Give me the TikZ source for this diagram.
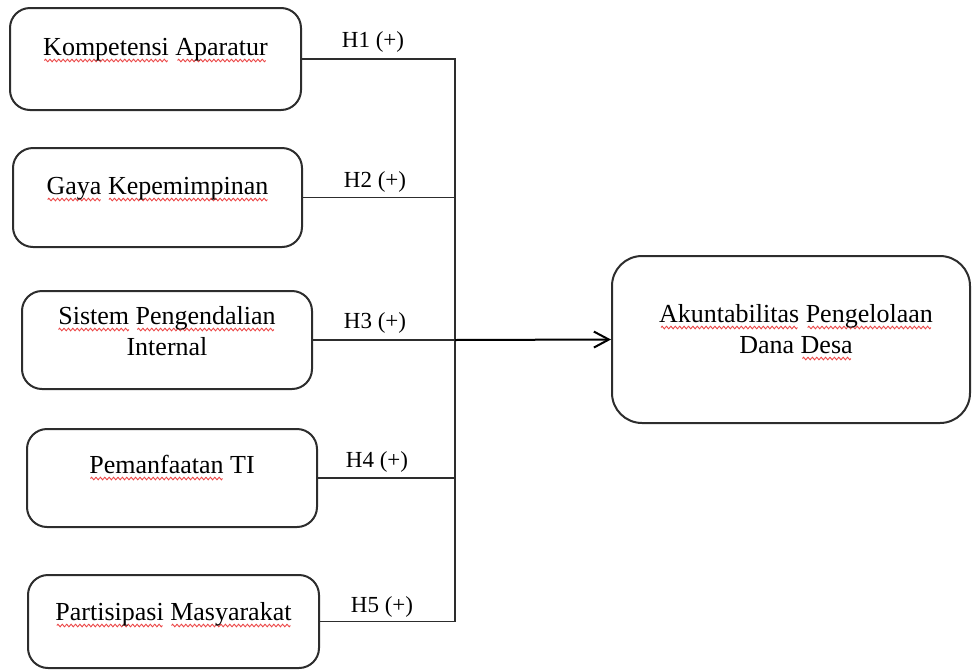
\documentclass[tikz,border=0pt]{standalone}
\usepackage{fontspec}
\setmainfont{Liberation Serif}
\usetikzlibrary{arrows.meta}
\definecolor{sqred}{RGB}{235,70,70}
\definecolor{edge}{RGB}{45,45,45}
\newsavebox\wvbox
\newsavebox\wdbox
\sbox\wvbox{\begin{tikzpicture}[x=1pt,y=1pt,baseline=0pt]
  \useasboundingbox (0,-1.4) rectangle (4.4,1.4);
  \draw[sqred,line width=0.9pt] (0,0) sin (1.1,1.3) cos (2.2,0) sin (3.3,-1.3) cos (4.4,0);
\end{tikzpicture}}
\newcommand\sqw[1]{\sbox\wdbox{#1}\leavevmode\rlap{\raisebox{-5.5pt}{\hbox to\wd\wdbox{\cleaders\copy\wvbox\hfil}}}\usebox\wdbox}
\begin{document}
\begin{tikzpicture}[x=1pt,y=-1pt,
  box/.style={draw=edge, line width=2pt, rounded corners=20pt, inner sep=0pt},
  bigbox/.style={box, rounded corners=30pt},
  txt/.style={anchor=base, inner sep=0pt, font=\fontsize{26}{31}\selectfont},
  hyp/.style={anchor=base, inner sep=0pt, font=\fontsize{23}{27}\selectfont},
  wire/.style={draw=edge, line width=1.3pt},
  mainarrow/.style={draw=black, line width=2pt, -{Straight Barb[length=15pt,width=16pt,line width=2pt]}}]
\useasboundingbox (0,0) rectangle (972,670);

% boxes
\node[box, minimum width=291pt, minimum height=102pt] (b1) at (155.5,59) {};
\node[box, minimum width=289pt, minimum height=99pt] (b2) at (157.5,197.5) {};
\node[box, minimum width=290pt, minimum height=98pt] (b3) at (167,340) {};
\node[box, minimum width=290pt, minimum height=98pt] (b4) at (172,478) {};
\node[box, minimum width=291pt, minimum height=93pt] (b5) at (173.5,621.5) {};
\node[bigbox, minimum width=358pt, minimum height=167pt] (r) at (791,339.5) {};

% texts
\node[txt] (t1) at (155.5,55) {\sqw{Kompetensi} \sqw{Aparatur}};
\node[txt] (t2) at (157.5,194) {\sqw{Gaya} \sqw{Kepemimpinan}};
\node[txt] (t3a) at (167,324) {\sqw{Sistem} \sqw{Pengendalian}};
\node[txt] (t3b) at (167,355) {Internal};
\node[txt] (t4) at (172,473) {\sqw{Pemanfaatan} TI};
\node[txt] (t5) at (173.5,620) {\sqw{Partisipasi} \sqw{Masyarakat}};
\node[txt] (tr1) at (796,322) {\sqw{Akuntabilitas} \sqw{Pengelolaan}};
\node[txt] (tr2) at (796,353) {Dana \sqw{Desa}};

% hypothesis labels
\node[hyp] (h1) at (373,47) {H1 (+)};
\node[hyp] (h2) at (375,187) {H2 (+)};
\node[hyp] (h3) at (375,328) {H3 (+)};
\node[hyp] (h4) at (377,467) {H4 (+)};
\node[hyp] (h5) at (382,612) {H5 (+)};

% connectors
\coordinate (bus) at (455,340);
\draw[wire] (b1.east) -| (bus);
\draw[wire] (b2.east) -| (bus);
\draw[wire] (b3.east) -- (bus);
\draw[wire] (b4.east) -| (bus);
\draw[wire] (b5.east) -| (bus);
\draw[mainarrow] (bus) -- (r.west);
\end{tikzpicture}
\end{document}
